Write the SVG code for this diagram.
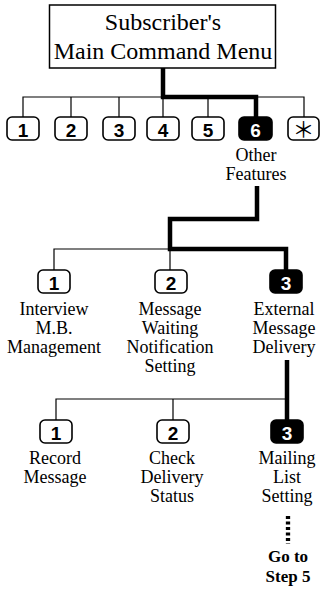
<svg xmlns="http://www.w3.org/2000/svg" width="320" height="590" viewBox="0 0 320 590">
<style>
.lbl{font-family:"Liberation Serif","Times New Roman",serif;font-size:18px;fill:#000;text-anchor:middle}
.ttl{font-family:"Liberation Serif","Times New Roman",serif;font-size:24px;fill:#000;text-anchor:middle}
.bold{font-family:"Liberation Serif","Times New Roman",serif;font-size:17px;font-weight:bold;fill:#000;text-anchor:middle}
.btn{fill:#fff;stroke:#000;stroke-width:1.6}
.btnsel{fill:#000;stroke:#000;stroke-width:1.6}
.num{font-family:"Liberation Sans",Arial,sans-serif;font-size:19px;font-weight:bold;fill:#000;text-anchor:middle}
.numsel{font-family:"Liberation Sans",Arial,sans-serif;font-size:19px;font-weight:bold;fill:#fff;text-anchor:middle}
.star{font-family:"Noto Sans CJK JP","DejaVu Sans",sans-serif;font-size:22px;fill:#000;text-anchor:middle}
.thin{fill:none;stroke:#000;stroke-width:1.2}
.thick{fill:none;stroke:#000;stroke-width:4.5;stroke-linejoin:miter}
</style>
<g id="connectors">
<path class="thin" d="M23,117V97H304V117M71,97V117M119,97V117M163,97V117M208,97V117"/>
<path class="thick" d="M163,68V97H256V117"/>
<path class="thin" d="M54,270V249H170M170,249V270"/>
<path class="thick" d="M257,186V219H170V249H286V270"/>
<path class="thin" d="M56,420V399H287M173,399V420"/>
<path class="thick" d="M287,360V420"/>
<path fill="none" stroke="#000" stroke-width="4.3" stroke-dasharray="3 2.5" d="M288,516V544"/>
</g>
<g id="main">
<rect x="49.5" y="5" width="226" height="63" fill="#fff" stroke="#000" stroke-width="1.5"/>
<text class="ttl" x="163" y="30">Subscriber's</text>
<text class="ttl" x="163" y="59">Main Command Menu</text>
</g>
<g id="b1"><rect class="btn" x="7" y="117" width="32" height="23" rx="5"/><text class="num" x="23" y="137">1</text></g>
<g id="b2"><rect class="btn" x="55" y="117" width="32" height="23" rx="5"/><text class="num" x="71" y="137">2</text></g>
<g id="b3"><rect class="btn" x="103" y="117" width="32" height="23" rx="5"/><text class="num" x="119" y="137">3</text></g>
<g id="b4"><rect class="btn" x="147" y="117" width="32" height="23" rx="5"/><text class="num" x="163" y="137">4</text></g>
<g id="b5"><rect class="btn" x="192" y="117" width="32" height="23" rx="5"/><text class="num" x="208" y="137">5</text></g>
<g id="b6"><rect class="btnsel" x="239" y="117" width="33" height="23" rx="5"/><text class="numsel" x="255.5" y="137">6</text>
<text class="lbl" x="256" y="161">Other</text><text class="lbl" x="256" y="180">Features</text></g>
<g id="bstar"><rect class="btn" x="288" y="117" width="31" height="23" rx="5"/><text class="star" x="303.5" y="136.5">＊</text></g>
<g id="f1"><rect class="btn" x="38" y="270" width="32" height="23" rx="5"/><text class="num" x="54" y="290">1</text>
<text class="lbl" x="54" y="315">Interview</text><text class="lbl" x="54" y="334">M.B.</text><text class="lbl" x="54" y="353">Management</text></g>
<g id="f2"><rect class="btn" x="155" y="270" width="32" height="23" rx="5"/><text class="num" x="171" y="290">2</text>
<text class="lbl" x="170" y="315">Message</text><text class="lbl" x="170" y="334">Waiting</text><text class="lbl" x="170" y="353">Notification</text><text class="lbl" x="170" y="372">Setting</text></g>
<g id="f3"><rect class="btnsel" x="270" y="270" width="32" height="23" rx="5"/><text class="numsel" x="286" y="290">3</text>
<text class="lbl" x="284" y="315">External</text><text class="lbl" x="284" y="334">Message</text><text class="lbl" x="284" y="353">Delivery</text></g>
<g id="e1"><rect class="btn" x="40" y="420" width="32" height="23" rx="5"/><text class="num" x="56" y="440">1</text>
<text class="lbl" x="55" y="464">Record</text><text class="lbl" x="55" y="483">Message</text></g>
<g id="e2"><rect class="btn" x="157" y="420" width="32" height="23" rx="5"/><text class="num" x="173" y="440">2</text>
<text class="lbl" x="172" y="464">Check</text><text class="lbl" x="172" y="483">Delivery</text><text class="lbl" x="172" y="502">Status</text></g>
<g id="e3"><rect class="btnsel" x="271" y="420" width="32" height="23" rx="5"/><text class="numsel" x="287" y="440">3</text>
<text class="lbl" x="287" y="464">Mailing</text><text class="lbl" x="287" y="483">List</text><text class="lbl" x="287" y="502">Setting</text></g>
<g id="goto"><text class="bold" x="288" y="562">Go to</text><text class="bold" x="288" y="582">Step 5</text></g>
</svg>
